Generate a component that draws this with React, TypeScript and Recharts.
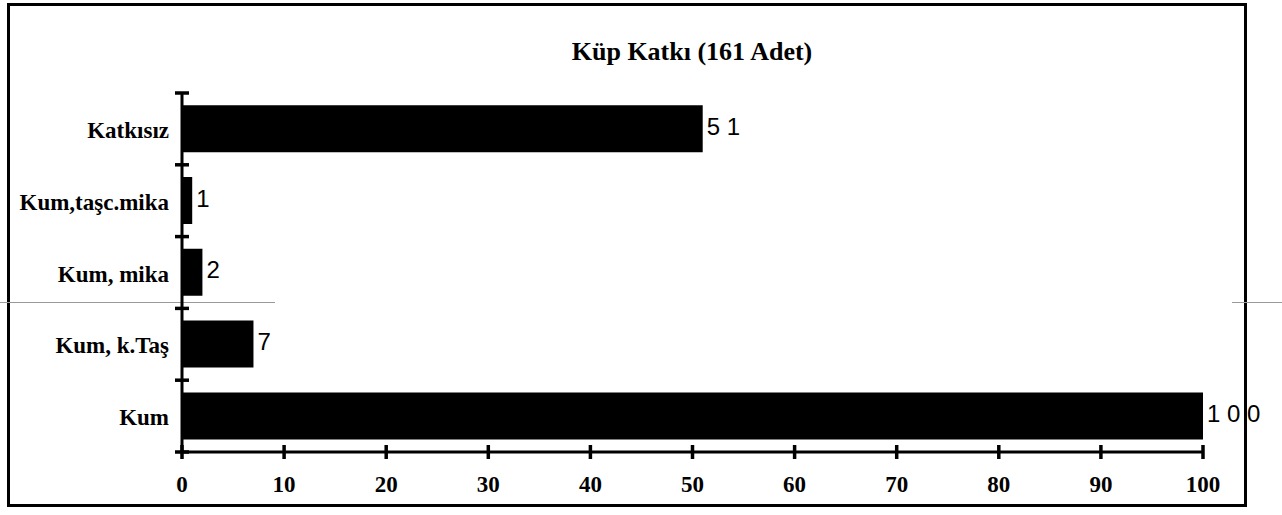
import React from 'react';
import { BarChart, Bar, XAxis, YAxis, LabelList } from 'recharts';

const categories = ['Katkısız', 'Kum,taşc.mika', 'Kum, mika', 'Kum, k.Taş', 'Kum'];
const counts = [51, 1, 2, 7, 100];
const xTicks = [0, 10, 20, 30, 40, 50, 60, 70, 80, 90, 100];
const title = 'Küp Katkı (161 Adet)';

const data = categories.map((name, i) => ({ name, count: counts[i] }));

const W = 1282;
const H = 515;
const margin = { top: 93, right: 79, bottom: 23, left: 12 };
const xAxisH = 40;
const yAxisW = 170;
const plotH = H - margin.top - margin.bottom - xAxisH;
const halfBand = plotH / categories.length / 2;

const serif = '"Liberation Serif", "Times New Roman", serif';
const sans = '"Liberation Sans", Arial, sans-serif';

// category label + small cross ticks on the band edges
const YTick = ({ x, y, payload, index }: any) => (
    <g>
        <line x1={x - 7} x2={x + 7} y1={y - halfBand} y2={y - halfBand} stroke="#000" strokeWidth={3.5} />
        {index === categories.length - 1 && (
            <line x1={x - 7} x2={x + 7} y1={y + halfBand} y2={y + halfBand} stroke="#000" strokeWidth={3.5} />
        )}
        <text x={x - 13} y={y + 9} textAnchor="end" fontFamily={serif} fontWeight="bold" fontSize={23} fill="#000">
            {payload.value}
        </text>
    </g>
);

const XTick = ({ x, y, payload }: any) => (
    <g>
        <line x1={x} x2={x} y1={y - 7} y2={y + 7} stroke="#000" strokeWidth={3.5} />
        <text x={x} y={y + 40} textAnchor="middle" fontFamily={serif} fontWeight="bold" fontSize={23} fill="#000">
            {payload.value}
        </text>
    </g>
);

const ValueLabel = ({ x, y, width, height, value }: any) => (
    <text x={x + width + 4} y={y + height / 2 + 6} fontFamily={sans} fontSize={24} fill="#000">
        {String(value).split('').join(' ')}
    </text>
);

export default function App() {
    return (
        <div style={{ position: 'absolute', left: 0, top: 0, width: W, height: H, background: '#fff' }}>
            <div style={{ position: 'absolute', left: 7, top: 3, width: 1234, height: 498, border: '3px solid #000' }} />
            <div style={{ position: 'absolute', left: 0, top: 302, width: 275, height: 1, background: '#999' }} />
            <div style={{ position: 'absolute', left: 1232, top: 302, width: 50, height: 1, background: '#999' }} />
            <div
                style={{
                    position: 'absolute', left: 492, top: 39, width: 400, textAlign: 'center',
                    fontFamily: serif, fontWeight: 'bold', fontSize: 26, lineHeight: '26px', color: '#000',
                }}
            >
                {title}
            </div>
            <div style={{ position: 'absolute', left: 0, top: 0 }}>
                <BarChart width={W} height={H} data={data} layout="vertical" margin={margin} barCategoryGap="17%">
                    <XAxis
                        type="number"
                        domain={[0, 100]}
                        ticks={xTicks}
                        height={xAxisH}
                        axisLine={{ stroke: '#000', strokeWidth: 3 }}
                        tickLine={false}
                        tickSize={0}
                        tickMargin={0}
                        tick={<XTick />}
                        interval={0}
                    />
                    <YAxis
                        type="category"
                        dataKey="name"
                        width={yAxisW}
                        axisLine={{ stroke: '#000', strokeWidth: 3 }}
                        tickLine={false}
                        tickSize={0}
                        tickMargin={0}
                        tick={<YTick />}
                        interval={0}
                    />
                    <Bar dataKey="count" fill="#000" isAnimationActive={false}>
                        <LabelList dataKey="count" content={<ValueLabel />} />
                    </Bar>
                </BarChart>
            </div>
        </div>
    );
}
